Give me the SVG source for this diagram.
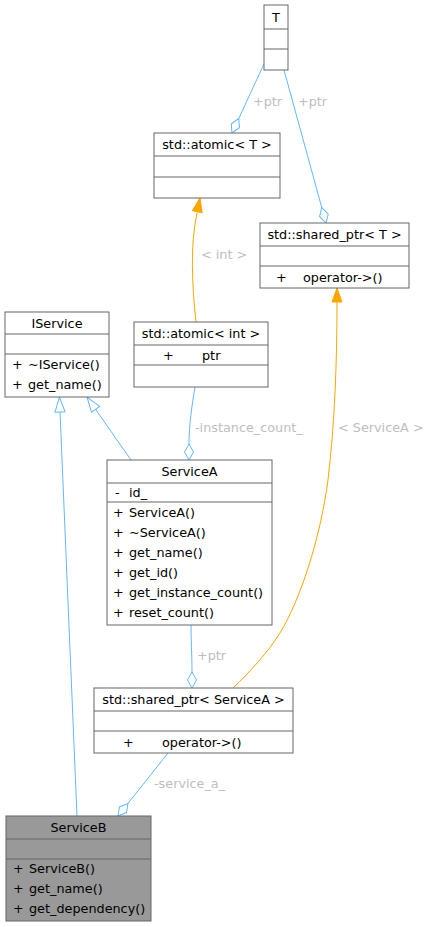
<svg xmlns="http://www.w3.org/2000/svg" width="431" height="927" viewBox="0 0 431 927">
<style>
.box{fill:#ffffff;stroke:#666666;stroke-width:1}
.grey{fill:#999999}
.div{stroke:#666666;stroke-width:1}
text{font-family:"DejaVu Sans","Liberation Sans",sans-serif;font-size:12.8px;fill:#000000}
.t{text-anchor:middle}
.lbl{fill:#bebebe}
.eb{fill:none;stroke:#63b8ff;stroke-width:1}
.eo{fill:none;stroke:#ffa500;stroke-width:1}
</style>
<defs>
<marker id="odia" markerUnits="userSpaceOnUse" markerWidth="18" markerHeight="12" refX="16" refY="5" orient="auto" overflow="visible"><path d="M0,5 L8,0.5 L16,5 L8,9.5 Z" fill="#ffffff" stroke="#63b8ff" stroke-width="1"/></marker>
<marker id="oinh" markerUnits="userSpaceOnUse" markerWidth="16" markerHeight="12" refX="15" refY="5" orient="auto" overflow="visible"><path d="M0,0 L15,5 L0,10 Z" fill="#ffffff" stroke="#63b8ff" stroke-width="1"/></marker>
<marker id="narr" markerUnits="userSpaceOnUse" markerWidth="16" markerHeight="12" refX="14" refY="5" orient="auto" overflow="visible"><path d="M0,0 L14,5 L0,10 Z" fill="#ffa500" stroke="#ffa500" stroke-width="1"/></marker>
</defs>
<rect width="431" height="927" fill="#ffffff"/>
<g id="connectors">
<path class="eb" d="M264,64 L232,133" marker-end="url(#odia)"/>
<text class="lbl" x="253" y="105.5">+ptr</text>
<path class="eb" d="M284,70 L326,223" marker-end="url(#odia)"/>
<text class="lbl" x="298" y="105.5">+ptr</text>
<path class="eo" d="M196,322 C192,285 190,245 197,213 L200,198" marker-end="url(#narr)"/>
<text class="lbl" x="201" y="258.5">&lt; int &gt;</text>
<path class="eb" d="M195,387 C192,405 189,425 189,444 L189,460" marker-end="url(#odia)"/>
<text class="lbl" x="195" y="431.5">-instance_count_</text>
<path class="eb" d="M131,460 L87,397" marker-end="url(#oinh)"/>
<path class="eb" d="M77,816 L59.4,397" marker-end="url(#oinh)"/>
<path class="eb" d="M191,625 C191,640 192,655 192,672 L192,688" marker-end="url(#odia)"/>
<text class="lbl" x="197" y="660">+ptr</text>
<path class="eo" d="M233,688 C250,672 268,652 280,633 C300,600 320,540 328,480 C335,420 337,360 337,302 L337,288" marker-end="url(#narr)"/>
<text class="lbl" x="338" y="431.5">&lt; ServiceA &gt;</text>
<path class="eb" d="M168,753 L118,816" marker-end="url(#odia)"/>
<text class="lbl" x="154" y="788">-service_a_</text>
</g>
<g id="node-T">
<rect class="box" x="264" y="5" width="24" height="65"/>
<line class="div" x1="264" y1="29" x2="288" y2="29"/>
<line class="div" x1="264" y1="49" x2="288" y2="49"/>
<text class="t" x="276" y="21.5">T</text>
</g>
<g id="node-atomic-T">
<rect class="box" x="154" y="133" width="126" height="65"/>
<line class="div" x1="154" y1="156" x2="280" y2="156"/>
<line class="div" x1="154" y1="177" x2="280" y2="177"/>
<text class="t" x="217" y="149">std::atomic&lt; T &gt;</text>
</g>
<g id="node-shared-ptr-T">
<rect class="box" x="260" y="223" width="149" height="65"/>
<line class="div" x1="260" y1="246" x2="409" y2="246"/>
<line class="div" x1="260" y1="266" x2="409" y2="266"/>
<text class="t" x="334.5" y="239">std::shared_ptr&lt; T &gt;</text>
<text x="276" y="281.5">+</text>
<text x="303" y="281.5">operator-&gt;()</text>
</g>
<g id="node-IService">
<rect class="box" x="5" y="312" width="104" height="85"/>
<line class="div" x1="5" y1="334" x2="109" y2="334"/>
<line class="div" x1="5" y1="354" x2="109" y2="354"/>
<text class="t" x="57" y="327.5">IService</text>
<text x="12" y="368.5">+</text>
<text x="28" y="368.5">~IService()</text>
<text x="12" y="388.5">+</text>
<text x="28" y="388.5">get_name()</text>
</g>
<g id="node-atomic-int">
<rect class="box" x="134" y="322" width="134" height="65"/>
<line class="div" x1="134" y1="345" x2="268" y2="345"/>
<line class="div" x1="134" y1="365" x2="268" y2="365"/>
<text class="t" x="201" y="338">std::atomic&lt; int &gt;</text>
<text x="163" y="359.5">+</text>
<text x="202" y="359.5">ptr</text>
</g>
<g id="node-ServiceA">
<rect class="box" x="107" y="460" width="165" height="165"/>
<line class="div" x1="107" y1="483" x2="272" y2="483"/>
<line class="div" x1="107" y1="502" x2="272" y2="502"/>
<text class="t" x="189.5" y="476">ServiceA</text>
<text x="115" y="497">-</text>
<text x="129" y="497">id_</text>
<text x="113" y="516.5">+</text>
<text x="129" y="516.5">ServiceA()</text>
<text x="113" y="536.5">+</text>
<text x="129" y="536.5">~ServiceA()</text>
<text x="113" y="556.5">+</text>
<text x="129" y="556.5">get_name()</text>
<text x="113" y="576.5">+</text>
<text x="129" y="576.5">get_id()</text>
<text x="113" y="596.5">+</text>
<text x="129" y="596.5">get_instance_count()</text>
<text x="113" y="616.5">+</text>
<text x="129" y="616.5">reset_count()</text>
</g>
<g id="node-shared-ptr-ServiceA">
<rect class="box" x="94" y="688" width="199" height="65"/>
<line class="div" x1="94" y1="711" x2="293" y2="711"/>
<line class="div" x1="94" y1="731" x2="293" y2="731"/>
<text class="t" x="193.5" y="704">std::shared_ptr&lt; ServiceA &gt;</text>
<text x="123" y="746.5">+</text>
<text x="162" y="746.5">operator-&gt;()</text>
</g>
<g id="node-ServiceB">
<rect class="box grey" x="6" y="816" width="145" height="105"/>
<line class="div" x1="6" y1="839" x2="151" y2="839"/>
<line class="div" x1="6" y1="859" x2="151" y2="859"/>
<text class="t" x="78.5" y="832">ServiceB</text>
<text x="13" y="873">+</text>
<text x="29" y="873">ServiceB()</text>
<text x="13" y="893">+</text>
<text x="29" y="893">get_name()</text>
<text x="13" y="913">+</text>
<text x="29" y="913">get_dependency()</text>
</g>
</svg>
